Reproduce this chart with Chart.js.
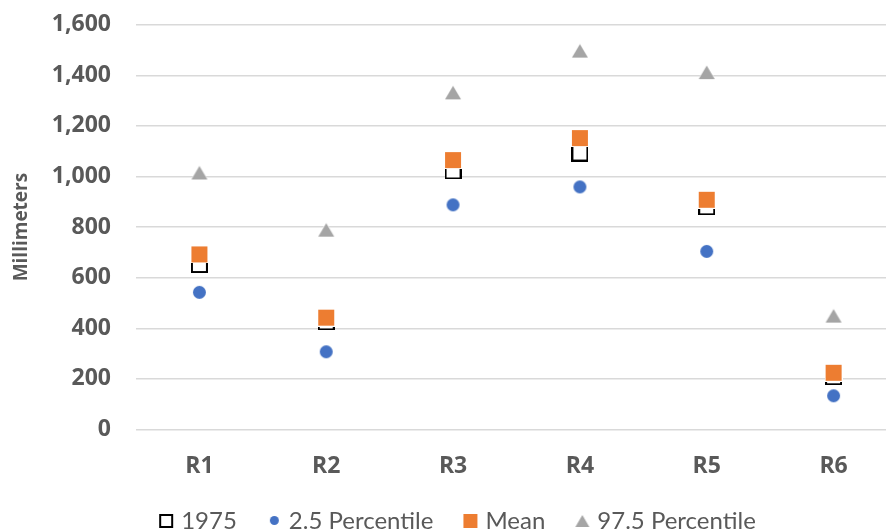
<!DOCTYPE html>
<html>
<head>
<meta charset="utf-8">
<script src="https://cdn.jsdelivr.net/npm/chart.js@4/dist/chart.umd.min.js"></script>
<style>
  html, body { margin: 0; padding: 0; background: #fff; overflow: hidden; }
  #wrap { width: 916px; height: 543px; position: relative; }
</style>
</head>
<body>
<div id="wrap"><canvas id="c"></canvas></div>
<script>
// Regions and annual rainfall figures (mm)
const regions = ['R1', 'R2', 'R3', 'R4', 'R5', 'R6'];
const rain1975 = [652, 425, 1022, 1093, 880, 208];
const p025 = [542, 307, 888, 959, 704, 133];
const meanVals = [692, 442, 1065, 1152, 908, 224];
const p975 = [1016, 790, 1333, 1498, 1413, 450];
const yTicks = [0, 200, 400, 600, 800, 1000, 1200, 1400, 1600];

const ORANGE = '#ED7D31', BLUE = '#4472C4', GREY = '#A5A5A5';
const TXT = '#595959';
const AXIS_FONT = 'Open Sans';
const LEGEND_FONT = 'Lato';

// small canvas helper for marker glyphs
function glyph(w, h, draw) {
  const c = document.createElement('canvas');
  c.width = w; c.height = h;
  draw(c.getContext('2d'), w, h);
  return c;
}
function hollowSquare(s, b) {
  return glyph(s, s, (g) => {
    g.fillStyle = '#000'; g.fillRect(0, 0, s, s);
    g.fillStyle = '#fff'; g.fillRect(b, b, s - 2 * b, s - 2 * b);
  });
}
function filledSquare(s, color, halo) {
  return glyph(s, s, (g) => {
    if (halo) { g.fillStyle = '#fff'; g.fillRect(0, 0, s, s); }
    g.fillStyle = color; g.fillRect(halo, halo, s - 2 * halo, s - 2 * halo);
  });
}
function dot(d, color, halo) {
  return glyph(d, d, (g) => {
    if (halo) { g.fillStyle = '#fff'; g.beginPath(); g.arc(d / 2, d / 2, d / 2, 0, Math.PI * 2); g.fill(); }
    g.fillStyle = color; g.beginPath(); g.arc(d / 2, d / 2, d / 2 - halo, 0, Math.PI * 2); g.fill();
  });
}
function tri(w, h, color, halo) {
  return glyph(w, h, (g) => {
    if (halo) {
      g.fillStyle = '#fff'; g.beginPath();
      g.moveTo(w / 2, 0); g.lineTo(w, h); g.lineTo(0, h); g.closePath(); g.fill();
    }
    g.fillStyle = color; g.beginPath();
    g.moveTo(w / 2, halo * 1.5); g.lineTo(w - halo, h - halo); g.lineTo(halo, h - halo); g.closePath(); g.fill();
  });
}
// legend swatch: box of SWATCH_W, glyph sits 3px inside its right end
const SWATCH_W = 34, SWATCH_EXTRA = 8;
function swatch(src) {
  const w = SWATCH_W + 2 * SWATCH_EXTRA;
  const h = src.height % 2 ? src.height + 1 : src.height;
  return glyph(w, h, (g) => {
    g.drawImage(src, Math.round(SWATCH_EXTRA + SWATCH_W - 3 - src.width / 2), Math.floor((h - src.height) / 2));
  });
}

const markers = {
  y1975: hollowSquare(17, 2),
  low: dot(15, BLUE, 1),
  mean: filledSquare(18, ORANGE, 1),
  high: tri(18, 16, GREY, 1)
};
const legendMarkers = [
  swatch(hollowSquare(14, 2)),
  swatch(dot(9, BLUE, 0)),
  swatch(filledSquare(14, ORANGE, 0)),
  swatch(tri(14, 12, GREY, 0))
];

new Chart(document.getElementById('c'), {
  type: 'line',
  data: {
    labels: regions,
    datasets: [
      { label: '1975', data: rain1975, pointStyle: markers.y1975, order: 4 },
      { label: '2.5 Percentile', data: p025, pointStyle: markers.low, order: 3 },
      { label: 'Mean', data: meanVals, pointStyle: markers.mean, order: 2 },
      { label: '97.5 Percentile', data: p975, pointStyle: markers.high, order: 1 }
    ].map(d => Object.assign(d, { showLine: false, pointRadius: 9, pointHoverRadius: 9 }))
  },
  options: {
    responsive: true,
    maintainAspectRatio: false,
    animation: false,
    events: [],
    layout: { padding: { top: 0, right: 19, left: -6, bottom: 0 } },
    scales: {
      x: {
        offset: true,
        grid: { display: false, drawTicks: false },
        border: { display: false },
        ticks: { color: TXT, font: { family: AXIS_FONT, size: 23, weight: 'bold' }, padding: 23 }
      },
      y: {
        min: 0, max: 1600,
        afterBuildTicks: (axis) => { axis.ticks = yTicks.map(v => ({ value: v })); },
        grid: { color: '#d9d9d9', lineWidth: 1.5, drawTicks: true, tickLength: 14, tickColor: 'rgba(0,0,0,0)' },
        border: { display: false },
        ticks: {
          color: TXT, padding: 11,
          font: { family: AXIS_FONT, size: 23, weight: 'bold' },
          callback: (v) => Number(v).toLocaleString('en-US')
        },
        title: {
          display: true, text: 'Millimeters', color: TXT,
          font: { family: AXIS_FONT, size: 19, weight: 'bold' },
          padding: { top: 16, bottom: 8 }
        }
      }
    },
    plugins: {
      tooltip: { enabled: false },
      legend: {
        position: 'bottom',
        labels: {
          usePointStyle: true,
          pointStyleWidth: SWATCH_W,
          boxWidth: SWATCH_W, boxHeight: 14,
          padding: 6,
          color: TXT,
          font: { family: LEGEND_FONT, size: 24 },
          generateLabels: (chart) => chart.data.datasets.map((ds, i) => ({
            text: ds.label,
            pointStyle: legendMarkers[i],
            fillStyle: 'transparent', strokeStyle: 'transparent', lineWidth: 0,
            fontColor: TXT,
            hidden: false,
            datasetIndex: i
          }))
        }
      }
    }
  }
});
</script>
</body>
</html>
